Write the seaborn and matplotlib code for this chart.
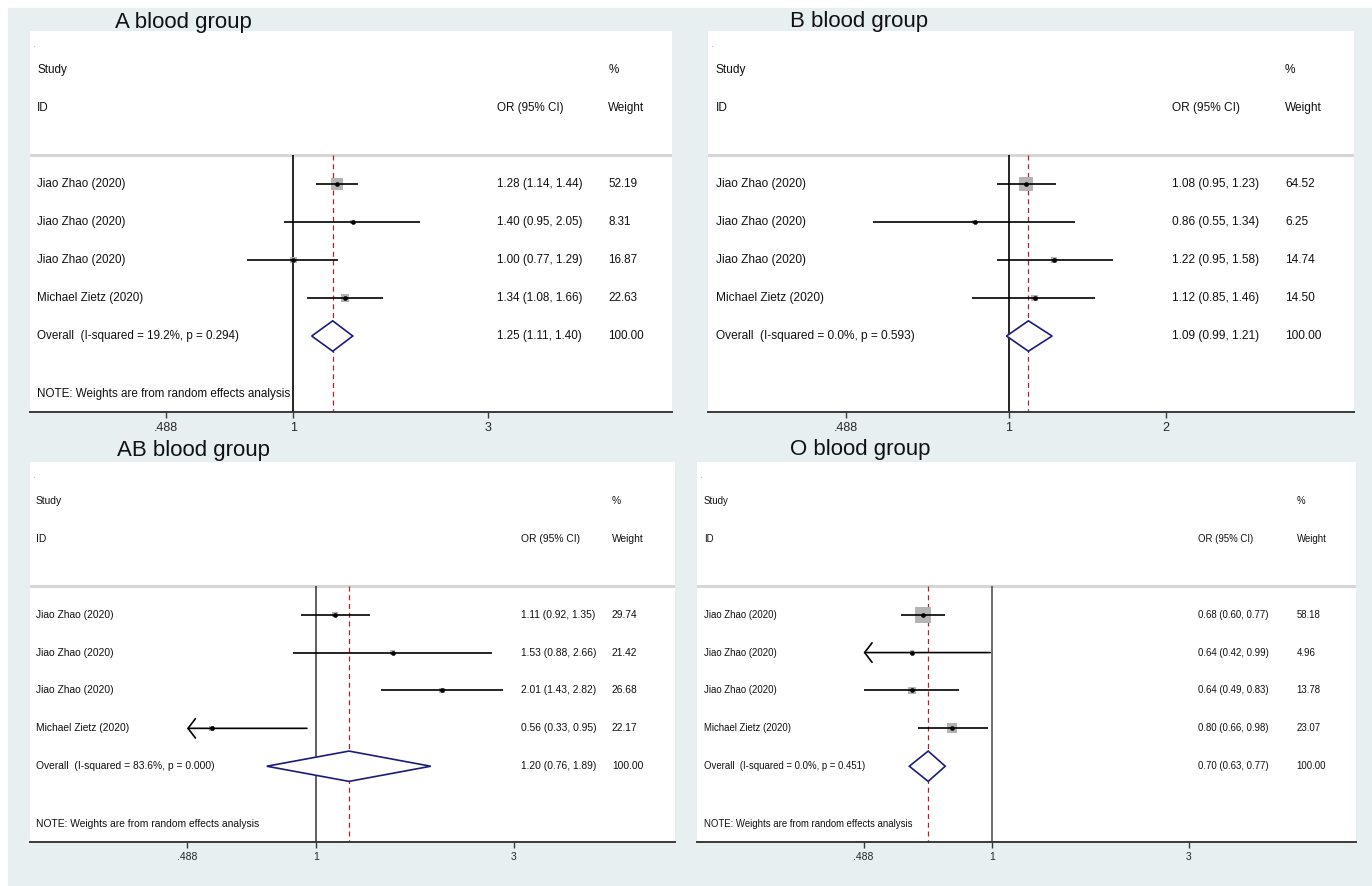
import numpy as np
import pandas as pd
import matplotlib
matplotlib.use("Agg")
import matplotlib.pyplot as plt
import matplotlib.transforms as mtrans
from matplotlib.ticker import NullLocator, FixedLocator, FixedFormatter
import seaborn as sns

# data
studies = ["Jiao Zhao (2020)", "Jiao Zhao (2020)", "Jiao Zhao (2020)", "Michael Zietz (2020)"]

a_or = [1.28, 1.40, 1.00, 1.34]
a_lo = [1.14, 0.95, 0.77, 1.08]
a_hi = [1.44, 2.05, 1.29, 1.66]
a_wt = [52.19, 8.31, 16.87, 22.63]
a_pooled = [1.25, 1.11, 1.40]
a_het = "I-squared = 19.2%, p = 0.294"

b_or = [1.08, 0.86, 1.22, 1.12]
b_lo = [0.95, 0.55, 0.95, 0.85]
b_hi = [1.23, 1.34, 1.58, 1.46]
b_wt = [64.52, 6.25, 14.74, 14.50]
b_pooled = [1.09, 0.99, 1.21]
b_het = "I-squared = 0.0%, p = 0.593"

ab_or = [1.11, 1.53, 2.01, 0.56]
ab_lo = [0.92, 0.88, 1.43, 0.33]
ab_hi = [1.35, 2.66, 2.82, 0.95]
ab_wt = [29.74, 21.42, 26.68, 22.17]
ab_pooled = [1.20, 0.76, 1.89]
ab_het = "I-squared = 83.6%, p = 0.000"

o_or = [0.68, 0.64, 0.64, 0.80]
o_lo = [0.60, 0.42, 0.49, 0.66]
o_hi = [0.77, 0.99, 0.83, 0.98]
o_wt = [58.18, 4.96, 13.78, 23.07]
o_pooled = [0.70, 0.63, 0.77]
o_het = "I-squared = 0.0%, p = 0.451"

a_ticks = [0.488, 1, 3]
b_ticks = [0.488, 1, 2]
ab_ticks = [0.488, 1, 3]
o_ticks = [0.488, 1, 3]
tick_labels_a = [".488", "1", "3"]
tick_labels_b = [".488", "1", "2"]

note = "NOTE: Weights are from random effects analysis"

sns.set_style("white")
plt.rcParams["font.family"] = ["Liberation Sans", "DejaVu Sans"]

W, H = 1372, 886
fig = plt.figure(figsize=(W / 100, H / 100), dpi=100, facecolor="white")
bg = "#e7eff1"
fig.patches.append(plt.Rectangle((8 / W, 0), 1, 1 - 8 / H, transform=fig.transFigure,
                                 color=bg, zorder=-10))


def px_axes(x0, y0, x1, y1):
    return fig.add_axes([x0 / W, 1 - y1 / H, (x1 - x0) / W, (y1 - y0) / H])


panels = [
    dict(title="A blood group", tpos=(115, 28), box=(30, 31, 672, 412), xlim=(0.226, 8.5),
         orr=a_or, lo=a_lo, hi=a_hi, wt=a_wt, pooled=a_pooled, het=a_het,
         ticks=a_ticks, tlab=tick_labels_a, note=True, fs=8.4, tfs=9, k=1.45,
         cols=(0.011, 0.727, 0.901), vcol="black"),
    dict(title="B blood group", tpos=(790, 27), box=(708, 31, 1354, 412), xlim=(0.266, 4.57),
         orr=b_or, lo=b_lo, hi=b_hi, wt=b_wt, pooled=b_pooled, het=b_het,
         ticks=b_ticks, tlab=tick_labels_b, note=False, fs=8.6, tfs=9, k=1.55,
         cols=(0.012, 0.718, 0.893), vcol="black"),
    dict(title="AB blood group", tpos=(117, 456), box=(30, 462, 675, 842), xlim=(0.204, 7.34),
         orr=ab_or, lo=ab_lo, hi=ab_hi, wt=ab_wt, pooled=ab_pooled, het=ab_het,
         ticks=ab_ticks, tlab=tick_labels_a, note=True, fs=7.4, tfs=7.5, k=0.55,
         cols=(0.009, 0.761, 0.902), vcol="#444444"),
    dict(title="O blood group", tpos=(790, 455), box=(697, 462, 1356, 842), xlim=(0.1924, 7.64),
         orr=o_or, lo=o_lo, hi=o_hi, wt=o_wt, pooled=o_pooled, het=o_het,
         ticks=o_ticks, tlab=tick_labels_a, note=True, fs=6.9, tfs=7.5, k=2.2,
         cols=(0.0106, 0.760, 0.910), vcol="#555555"),
]

y_top, y_bot = -4.03, 6.0
sep_y = -0.763

for p in panels:
    ax = px_axes(*p["box"])
    ax.set_facecolor("white")

    df = pd.DataFrame({"study": studies, "or": p["orr"], "lo": p["lo"],
                       "hi": p["hi"], "wt": p["wt"]})
    df["row"] = np.arange(len(df))
    xmin = p["ticks"][0]

    # weight boxes
    sns.scatterplot(data=df, x="or", y="row", size="wt", sizes=(0, p["k"] * 100),
                    size_norm=(0, 100), marker="s", color="#b4b4b4", edgecolor="none",
                    legend=False, ax=ax, zorder=3)
    sns.scatterplot(data=df, x="or", y="row", s=9, marker="o", color="black",
                    edgecolor="black", linewidth=0.3, legend=False, ax=ax, zorder=5)

    ax.set_xscale("log")
    ax.set_xlim(*p["xlim"])
    ax.set_ylim(y_bot, y_top)
    for s in ["top", "left", "right"]:
        ax.spines[s].set_visible(False)
    ax.spines["bottom"].set_color("#3a3a3a")
    ax.spines["bottom"].set_linewidth(1.4)
    ax.xaxis.set_major_locator(FixedLocator(p["ticks"]))
    ax.xaxis.set_major_formatter(FixedFormatter(p["tlab"]))
    ax.xaxis.set_minor_locator(NullLocator())
    ax.tick_params(axis="x", direction="out", length=4, width=1, color="#3a3a3a",
                   pad=3, labelsize=p["tfs"], bottom=True)
    ax.set_yticks([])
    ax.set_xlabel("")
    ax.set_ylabel("")

    # separator under the header
    ax.axhline(sep_y, color="#d6d6d6", lw=2.2, zorder=1)
    # line of no effect and pooled estimate
    ax.vlines(1, sep_y, y_bot, color=p["vcol"], lw=1.2, zorder=2)
    ax.vlines(p["pooled"][0], sep_y, y_bot, color="#a82828", lw=0.9,
              linestyles=(0, (4, 3)), zorder=2)

    # confidence intervals, clipped ones get an arrow
    for _, r in df.iterrows():
        if r["lo"] < xmin:
            ax.annotate("", xy=(xmin, r["row"]), xytext=(r["hi"], r["row"]),
                        arrowprops=dict(arrowstyle="->,head_length=0.38,head_width=0.5",
                                        lw=1.2, color="black", shrinkA=0, shrinkB=0,
                                        mutation_scale=14), zorder=4)
        else:
            ax.hlines(r["row"], r["lo"], r["hi"], color="black", lw=1.2, zorder=4)

    # pooled diamond
    est, plo, phi = p["pooled"]
    yo = len(df)
    ax.fill([plo, est, phi, est, plo], [yo, yo - 0.4, yo, yo + 0.4, yo],
            facecolor="white", edgecolor="#1c1c7a", lw=1.2, zorder=4)

    # text columns
    c0, c1, c2 = p["cols"]
    tr = mtrans.blended_transform_factory(ax.transAxes, ax.transData)

    def put(fx, y, s, fs=None):
        ax.text(fx, y, s, transform=tr, va="center", ha="left",
                fontsize=fs or p["fs"], color="#111111")

    put(0.005, -3.65, ".", fs=4)
    put(c0, -3.0, "Study")
    put(c0, -2.0, "ID")
    put(c1, -2.0, "OR (95% CI)")
    put(c2, -3.0, "%")
    put(c2, -2.0, "Weight")
    for _, r in df.iterrows():
        put(c0, r["row"], r["study"])
        put(c1, r["row"], f"{r['or']:.2f} ({r['lo']:.2f}, {r['hi']:.2f})")
        put(c2, r["row"], f"{r['wt']:.2f}")
    put(c0, yo, f"Overall  ({p['het']})")
    put(c1, yo, f"{est:.2f} ({plo:.2f}, {phi:.2f})")
    put(c2, yo, "100.00")
    if p["note"]:
        put(c0, 5.53, note)

    tx, ty = p["tpos"]
    fig.text(tx / W, 1 - ty / H, p["title"], fontsize=16, va="baseline", ha="left",
             color="#111111")

fig.savefig("out.png", dpi=100, facecolor=fig.get_facecolor())
